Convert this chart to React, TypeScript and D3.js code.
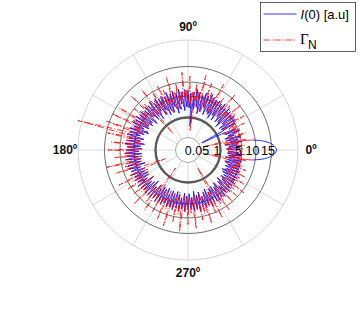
import React, { useEffect, useRef } from 'react';
import * as d3 from 'd3';

// radial ticks (labels drawn on the 0 deg spoke)
const radialTicks = [0.05, 1, 5, 10, 15];
const radialMax = 25;
const angleTicks = [0, 90, 180, 270];

// I(0) [a.u] samples, evenly spaced in angle (0..360)
const intensity = [
  3.8, 2.1, 4.6, 2.6, 4.2, 1.9, 5.0, 2.8, 4.4, 2.3, 5.3, 2.1, 4.0, 2.9, 5.5, 2.5, 4.7, 1.8, 0.2, 2.0,
  5.0, 2.2, 5.8, 2.0, 6.3, 3.0, 5.4, 1.7, 6.1, 2.6, 6.7, 2.2, 5.6, 3.2, 6.9, 2.0, 6.0, 2.8, 6.5, 1.9,
  6.2, 2.5, 6.8, 2.9, 7.4, 2.1, 6.3, 3.4, 7.1, 2.4, 5.9, 1.9, 6.9, 3.1, 7.6, 2.6, 6.6, 0.6, 6.1, 2.8,
  7.0, 3.0, 7.3, 2.3, 6.6, 3.6, 7.7, 2.7, 6.4, 2.0, 7.4, 3.3, 6.8, 2.4, 7.8, 2.9, 6.5, 2.2, 7.2, 3.4,
  6.7, 2.6, 7.5, 3.7, 6.3, 2.3, 7.7, 3.1, 7.0, 2.8, 7.3, 3.8, 6.6, 2.5, 7.6, 3.3, 7.1, 2.9, 7.8, 3.5,
  7.3, 3.2, 8.0, 4.0, 6.9, 2.9, 7.9, 3.6, 7.4, 4.2, 8.2, 3.4, 7.2, 3.9, 7.8, 3.1, 8.4, 3.8, 7.4, 3.5,
  7.7, 4.1, 8.1, 3.6, 7.5, 4.4, 8.3, 3.8, 7.2, 4.0, 7.9, 3.3, 8.0, 4.3, 7.4, 3.7, 7.9, 3.9, 7.1, 3.4,
  7.6, 3.8, 7.0, 4.1, 7.8, 3.1, 7.3, 3.9, 6.8, 3.5, 7.5, 2.9, 7.1, 4.0, 7.3, 3.2, 6.7, 3.7, 7.7, 3.0,
  6.9, 3.3, 7.4, 2.8, 6.6, 3.9, 7.6, 3.0, 7.1, 3.6, 7.8, 2.9, 6.8, 3.4, 7.3, 3.9, 7.0, 3.0, 7.7, 3.5,
  7.2, 3.1, 6.7, 3.8, 7.5, 2.7, 7.1, 3.5, 7.8, 3.0, 6.6, 3.9, 7.3, 3.2, 6.9, 2.8, 7.6, 3.6, 6.5, 3.1,
  6.8, 2.9, 7.2, 3.4, 6.4, 2.6, 7.0, 3.7, 6.2, 3.0, 6.7, 2.4, 6.3, 3.3, 5.9, 2.7, 6.5, 3.0, 5.7, 2.5,
  6.0, 2.2, 5.5, 2.9, 5.8, 2.4, 5.1, 2.8, 5.4, 2.1, 4.9, 2.6, 5.2, 2.0, 4.7, 2.5, 5.0, 2.3, 4.4, 2.4,
];

// Gamma_N samples, same angles
const gammaN = [
  3.0, 5.2, 2.4, 6.0, 3.5, 4.4, 1.8, 6.8, 0.3, 5.0, 3.1, 7.2, 2.6, 4.6, 3.8, 5.9, 2.2, 8.0, 3.3, 5.4,
  2.5, 9.2, 3.6, 5.8, 2.9, 6.9, 4.0, 10.5, 2.4, 6.2, 3.4, 7.5, 2.8, 11.6, 3.9, 5.6, 2.6, 8.4, 4.1, 6.4,
  3.0, 12.2, 2.7, 6.8, 4.3, 7.9, 3.2, 10.8, 2.5, 6.1, 3.7, 12.8, 2.9, 7.0, 4.4, 9.6, 0.4, 6.5, 3.5, 11.9,
  2.8, 7.4, 4.0, 13.2, 3.1, 6.6, 2.6, 9.9, 3.8, 7.2, 2.9, 12.4, 3.6, 6.3, 2.4, 8.8, 3.9, 11.0, 3.2, 6.9,
  2.7, 10.3, 4.2, 7.1, 3.0, 12.7, 3.5, 6.4, 0.5, 8.6, 3.8, 13.5, 2.9, 7.3, 4.1, 9.8, 3.3, 6.7, 3.6, 14.2,
  3.4, 8.2, 4.4, 15.3, 3.1, 7.5, 3.9, 16.1, 4.5, 9.4, 26.5, 3.7, 14.6, 4.2, 8.0, 3.3, 12.9, 4.6, 7.8, 3.5,
  13.9, 4.1, 8.5, 4.7, 11.8, 3.4, 7.7, 4.3, 14.9, 3.8, 9.0, 4.5, 12.3, 3.6, 0.6, 4.0, 8.7, 3.2, 13.1, 4.4,
  7.9, 3.5, 11.4, 4.2, 7.2, 3.0, 10.6, 3.9, 8.1, 4.6, 12.7, 3.4, 7.6, 4.0, 9.7, 3.1, 11.9, 0.5, 7.4, 3.7,
  10.9, 3.6, 7.8, 4.3, 12.5, 3.0, 8.3, 4.5, 13.8, 3.3, 7.5, 4.1, 11.6, 2.9, 8.9, 4.4, 14.5, 3.5, 7.9, 3.9,
  12.1, 3.2, 8.6, 4.2, 13.6, 3.5, 7.7, 3.9, 11.2, 3.0, 9.3, 4.4, 12.9, 3.6, 7.4, 4.0, 10.4, 3.1, 12.6, 0.4,
  3.4, 8.4, 4.0, 11.5, 3.2, 7.0, 2.8, 10.1, 3.9, 6.8, 3.1, 9.6, 3.7, 7.3, 2.6, 10.8, 3.5, 6.5, 4.0, 9.0,
  3.1, 6.7, 2.5, 8.3, 3.6, 5.9, 2.9, 7.6, 2.3, 6.2, 3.4, 5.5, 0.3, 6.9, 2.8, 5.1, 3.2, 6.0, 2.4, 4.7,
];

// the loop near 0 deg (outer half blue, inner half red)
const loopBlueAngles = [-8.8, -6.5, -3.4, 0, 3.4, 6.5, 8.8];
const loopBlueValues = [9.0, 12.9, 15.7, 16.9, 15.7, 12.9, 9.0];
const loopRedAngles = [8.8, 9.4, 6.5, 0, -6.5, -9.4, -8.8];
const loopRedValues = [9.0, 4.85, 3.14, 2.49, 3.14, 4.85, 9.0];

const BLUE = '#0000ff';
const RED = '#ff0000';
const DASHDOT = '6,2,1.2,2';

const Chart: React.FC = () => {
  const ref = useRef<SVGSVGElement>(null);

  useEffect(() => {
    if (!ref.current) return;
    const svg = d3.select(ref.current);
    svg.selectAll('*').remove();

    const cx = 188;
    const cy = 150;

    // piecewise radial axis as it appears in the figure
    const r = d3.scaleLinear()
      .domain([0, 0.05, 1, 5, 10, 15, radialMax])
      .range([0, 12.5, 32.5, 54, 68, 83.5, 110]);

    const toRad = (deg: number) => (deg * Math.PI) / 180;

    const g = svg.append('g').attr('transform', `translate(${cx},${cy})`);

    // outer boundary
    g.append('circle')
      .attr('r', r(radialMax))
      .attr('fill', 'none')
      .attr('stroke', '#d6d6d6')
      .attr('stroke-width', 1);

    // spokes every 30 deg
    d3.range(0, 360, 30).forEach(a => {
      g.append('line')
        .attr('x1', r(0.05) * Math.cos(toRad(a)))
        .attr('y1', -r(0.05) * Math.sin(toRad(a)))
        .attr('x2', r(radialMax) * Math.cos(toRad(a)))
        .attr('y2', -r(radialMax) * Math.sin(toRad(a)))
        .attr('stroke', '#d9d9d9')
        .attr('stroke-width', 1);
    });

    // rings
    radialTicks.forEach(t => {
      const style = t === 0.05
        ? { c: '#a8a8a8', w: 1 }
        : t === 1
          ? { c: '#5a5a5a', w: 2.4 }
          : { c: '#6e6e6e', w: 1 };
      g.append('circle')
        .attr('r', r(t))
        .attr('fill', 'none')
        .attr('stroke', style.c)
        .attr('stroke-width', style.w);
    });

    const n = intensity.length;
    const angles = d3.range(n).map(i => (i * 360) / n);

    const radial = d3.lineRadial<[number, number]>()
      .angle(d => Math.PI / 2 - toRad(d[0]))
      .radius(d => r(d[1]));

    // I(0)
    g.append('path')
      .datum(angles.map((a, i) => [a, intensity[i]] as [number, number]))
      .attr('fill', 'none')
      .attr('stroke', BLUE)
      .attr('stroke-width', 0.8)
      .attr('d', radial);

    // Gamma_N
    g.append('path')
      .datum(angles.map((a, i) => [a, gammaN[i]] as [number, number]))
      .attr('fill', 'none')
      .attr('stroke', RED)
      .attr('stroke-width', 0.8)
      .attr('stroke-dasharray', DASHDOT)
      .attr('d', radial);

    const smooth = d3.lineRadial<[number, number]>()
      .angle(d => Math.PI / 2 - toRad(d[0]))
      .radius(d => r(d[1]))
      .curve(d3.curveCatmullRom);

    g.append('path')
      .datum(loopRedAngles.map((a, i) => [a, loopRedValues[i]] as [number, number]))
      .attr('fill', 'none')
      .attr('stroke', RED)
      .attr('stroke-width', 0.8)
      .attr('d', smooth);

    g.append('path')
      .datum(loopBlueAngles.map((a, i) => [a, loopBlueValues[i]] as [number, number]))
      .attr('fill', 'none')
      .attr('stroke', BLUE)
      .attr('stroke-width', 0.8)
      .attr('d', smooth);

    // radial tick labels
    radialTicks.forEach(t => {
      g.append('text')
        .attr('x', r(t) - 3.5)
        .attr('y', 0)
        .attr('dy', '0.36em')
        .attr('text-anchor', 'middle')
        .attr('font-family', 'Liberation Sans, Arial, sans-serif')
        .attr('font-size', '12.5px')
        .attr('fill', '#000')
        .text(String(t));
    });

    // angle labels
    angleTicks.forEach(a => {
      const rr = 123;
      g.append('text')
        .attr('x', rr * Math.cos(toRad(a)))
        .attr('y', -rr * Math.sin(toRad(a)))
        .attr('dy', '0.36em')
        .attr('text-anchor', 'middle')
        .attr('font-family', 'Liberation Sans, Arial, sans-serif')
        .attr('font-size', '12px')
        .attr('font-weight', 'bold')
        .attr('fill', '#111')
        .text(`${a}º`);
    });

    // legend
    const legend = svg.append('g').attr('transform', 'translate(260.5,2.5)');
    legend.append('rect')
      .attr('width', 95)
      .attr('height', 49)
      .attr('fill', '#fff')
      .attr('stroke', '#3a3a3a')
      .attr('stroke-width', 0.8);

    legend.append('line')
      .attr('x1', 3).attr('x2', 36)
      .attr('y1', 11.5).attr('y2', 11.5)
      .attr('stroke', BLUE)
      .attr('stroke-width', 0.8);

    const t1 = legend.append('text')
      .attr('x', 40)
      .attr('y', 16)
      .attr('font-family', 'Liberation Sans, Arial, sans-serif')
      .attr('font-size', '13px')
      .attr('fill', '#000');
    t1.append('tspan').attr('font-style', 'italic').text('I');
    t1.append('tspan').text('(0) [a.u]');

    legend.append('line')
      .attr('x1', 3).attr('x2', 36)
      .attr('y1', 37.5).attr('y2', 37.5)
      .attr('stroke', RED)
      .attr('stroke-width', 0.8)
      .attr('stroke-dasharray', DASHDOT);

    legend.append('text')
      .attr('x', 39.5)
      .attr('y', 41)
      .attr('font-family', 'Liberation Serif, Times New Roman, serif')
      .attr('font-size', '15px')
      .attr('fill', '#000')
      .text('Γ');

    legend.append('text')
      .attr('x', 47.5)
      .attr('y', 46)
      .attr('font-family', 'Liberation Sans, Arial, sans-serif')
      .attr('font-size', '12px')
      .attr('fill', '#000')
      .text('N');
  }, []);

  return (
    <svg
      ref={ref}
      width={362}
      height={312}
      style={{ position: 'fixed', left: 0, top: 0, background: '#fff' }}
    />
  );
};

export default function App() {
  return <Chart />;
}
